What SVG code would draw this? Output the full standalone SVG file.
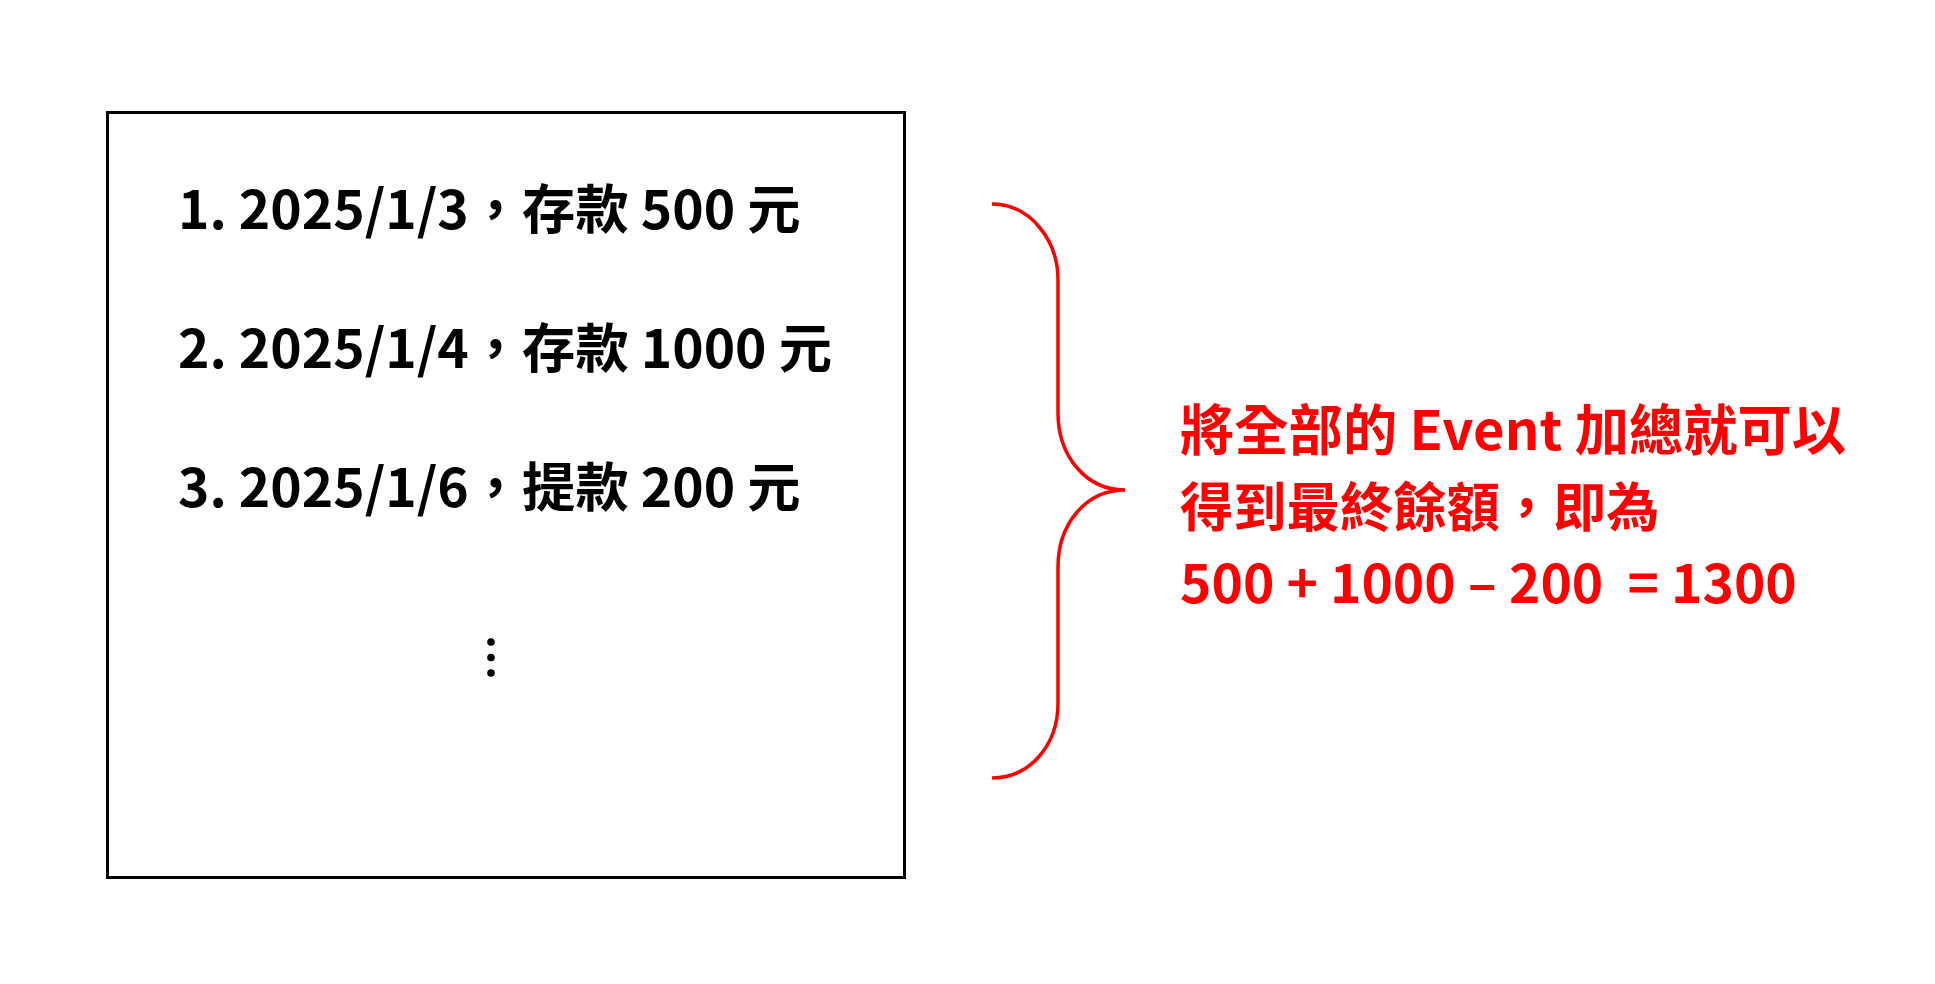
<svg xmlns="http://www.w3.org/2000/svg" width="1935" height="984" viewBox="0 0 1935 984">
<style>
.t{font-family:"Noto Sans CJK TC","Noto Sans CJK SC",sans-serif;font-weight:700;font-size:53.3px;white-space:pre}
.blk{fill:#000}
.red{fill:#FF0000}
.brace{fill:none;stroke:#FF0000;stroke-width:3.5}
</style>
<rect width="1935" height="984" fill="#fff"/>
<g id="events">
<rect x="107.5" y="112.5" width="797" height="765" fill="none" stroke="#000" stroke-width="3"/>
<text class="t blk" x="178" y="229">1. 2025/1/3，存款 500 元</text>
<text class="t blk" x="178" y="368">2. 2025/1/4，存款 1000 元</text>
<text class="t blk" x="178" y="507">3. 2025/1/6，提款 200 元</text>
<circle cx="491" cy="642" r="3.8" fill="#000"/>
<circle cx="491" cy="657.5" r="3.8" fill="#000"/>
<circle cx="491" cy="673" r="3.8" fill="#000"/>
</g>
<g id="connectors">
<path class="brace" d="M992,204 C1030,204 1058,240 1058,280 L1058,413 C1058,455 1085,490 1125,490 C1085,490 1058,525 1058,567 L1058,703 C1058,745 1030,778 992,778"/>
</g>
<g id="summary">
<text class="t red" x="1180" y="450" style="font-size:54.3px">將全部的 Event 加總就可以</text>
<text class="t red" x="1180" y="527">得到最終餘額，即為</text>
<text class="t red" x="1180" y="603">500 + 1000 – 200  = 1300</text>
</g>
</svg>
